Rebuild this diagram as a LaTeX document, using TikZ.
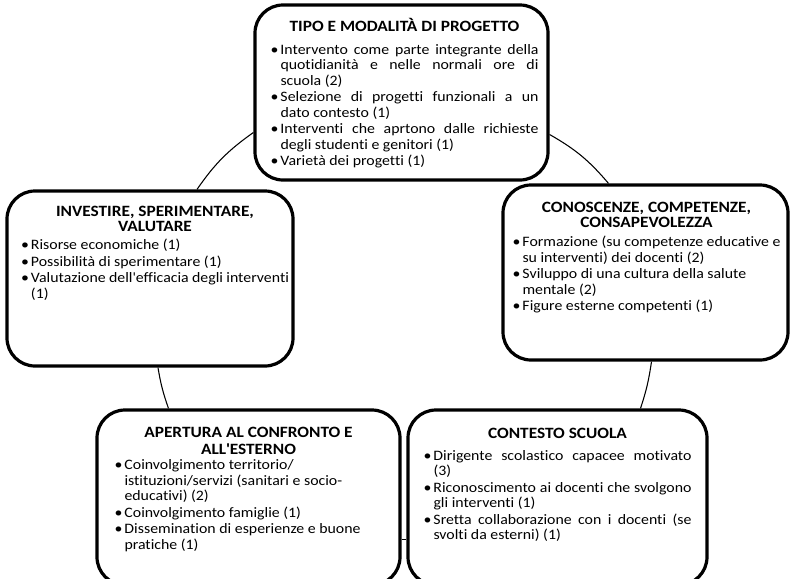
\documentclass[tikz,border=0pt]{standalone}
\usepackage{fontspec}
\setmainfont{Carlito}[FakeStretch=1.1, Ligatures={NoCommon}]
\usetikzlibrary{calc}

\newlength{\bulw}
\setlength{\bulw}{7.5pt}
\newlength{\txttop}
\newlength{\txtshift}
% one bullet item, hanging indent
\newcommand{\itm}{\par\hangindent=\bulw\hangafter=1\noindent\makebox[\bulw][l]{\textbullet}}
% box content: [gap after title]{title}{items}
\newcommand{\boxtext}[3][2pt]{%
  \hspace*{2\txtshift}\parbox[c][131pt][t]{201pt}{%
    \fontsize{10.8pt}{11.6pt}\selectfont\setlength{\parskip}{0.8pt}%
    \vspace*{\txttop}%
    {\fontsize{11.8pt}{11.4pt}\selectfont\centering\bfseries\strut #2\par}%
    \vspace{#1}%
    #3\par}}

\begin{document}
\begin{tikzpicture}[
    x=0.75pt, y=-0.75pt,
    box/.style={draw, line width=2.4pt, rounded corners=21pt, inner sep=0pt,
                minimum height=131.25pt},
    tpad/.style={execute at begin node={\setlength{\txttop}{#1}}},
    tshift/.style={execute at begin node={\setlength{\txtshift}{#1}}},
    link/.style={line width=0.8pt}
]
\clip (0,0) rectangle (794,579);

\node[box, minimum width=219.75pt, tpad=8.8pt, tshift=2.25pt] (tipo) at (401.5,92.5) {\boxtext[5pt]{TIPO E MODALITÀ DI PROGETTO}{%
  \itm Intervento come parte integrante della\linebreak quotidianità e nelle normali ore di\linebreak scuola (2)
  \itm Selezione di progetti funzionali a un\linebreak dato contesto (1)
  \itm Interventi che aprtono dalle richieste\linebreak degli studenti e genitori (1)
  \itm Varietà dei progetti (1)}};

\node[box, minimum width=214.5pt, tpad=10.2pt, tshift=3.75pt] (investire) at (150,278.5) {\boxtext[1.25pt]{INVESTIRE, SPERIMENTARE,\\VALUTARE}{%
  \itm Risorse economiche (1)
  \itm Possibilità di sperimentare (1)
  \itm Valutazione dell\textquotesingle efficacia degli interventi\newline (1)}};

\node[box, minimum width=213.75pt, tpad=11.7pt, tshift=0.75pt] (conoscenze) at (645.5,272.5) {\boxtext{CONOSCENZE, COMPETENZE,\\CONSAPEVOLEZZA}{%
  \itm Formazione (su competenze educative e\newline su interventi) dei docenti (2)
  \itm Sviluppo di una cultura della salute\newline mentale (2)
  \itm Figure esterne competenti (1)}};

\node[box, minimum width=227.25pt, tpad=12pt] (apertura) at (248.5,497.5) {\boxtext[-1pt]{APERTURA AL CONFRONTO E\\ALL\textquotesingle ESTERNO}{%
  \itm Coinvolgimento territorio/\newline istituzioni/servizi (sanitari e socio-\newline educativi) (2)
  \itm Coinvolgimento famiglie (1)
  \itm Dissemination di esperienze e buone\newline pratiche (1)}};

\node[box, minimum width=224.25pt, tpad=12.8pt] (contesto) at (557.5,497.5) {\boxtext[3.5pt]{CONTESTO SCUOLA}{%
  \itm Dirigente scolastico capacee motivato\linebreak (3)
  \itm Riconoscimento ai docenti che svolgono\linebreak gli interventi (1)
  \itm Sretta collaborazione con i docenti (se\linebreak svolti da esterni) (1)}};

\draw[link] ($(tipo.west)+(0,40)$) to[bend right=10] ($(investire.north)+(47,0)$);
\draw[link] ($(tipo.east)+(0,42)$) to[bend left=10] ($(conoscenze.north)+(-37,0)$);
\draw[link] ($(investire.south)+(8,0)$) to[bend right=5] ($(apertura.north)+(-80,0)$);
\draw[link] ($(conoscenze.south)+(6,0)$) to[bend left=5] ($(contesto.north)+(83,0)$);
\draw[link] ($(apertura.east)+(0,42)$) -- ($(contesto.west)+(0,42)$);

\end{tikzpicture}
\end{document}
